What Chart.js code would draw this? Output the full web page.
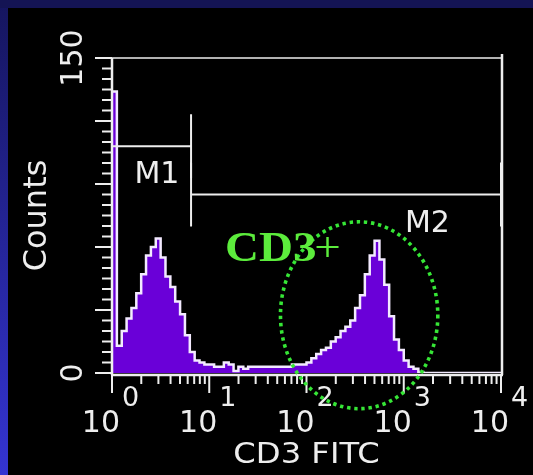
<!DOCTYPE html>
<html>
<head>
<meta charset="utf-8">
<script src="https://cdn.jsdelivr.net/npm/chart.js@4/dist/chart.umd.min.js"></script>
<style>
html, body { margin: 0; padding: 0; background: #000; }
canvas { display: block; }
</style>
</head>
<body>
<canvas id="hist" width="533" height="475"></canvas>
<script>
// CD3 FITC single-parameter histogram: 20 channels per decade, 10^0 .. 10^4
const decades = [0, 1, 2, 3, 4];
const channelsPerDecade = 20;
const counts = [
  134, 13, 20, 26, 31, 38, 47, 56, 60, 64,
  55, 46, 41, 34, 28, 18, 10, 6, 5, 4,
  4, 3, 3, 5, 4, 1, 3, 2, 3, 3,
  3, 3, 3, 3, 3, 3, 3, 4, 4, 4,
  5, 7, 9, 11, 12, 15, 17, 20, 22, 25,
  31, 37, 47, 56, 63, 54, 42, 27, 16, 11,
  6, 3, 2, 0.5, 0, 0, 0, 0, 0, 0,
  0, 0, 0, 0, 0, 0, 0, 0, 0, 0
];
const yTickLabels = [0, 150];
const yMinorStep = 5;
const yMajorStep = 30;
const axisTitleX = 'CD3 FITC';
const axisTitleY = 'Counts';

// region markers
const markerNames = ['M1', 'M2'];
const markerStart = [1, 6.5];
const markerEnd = [6.5, 10000];
const markerLevel = [108, 85];
const markerLabelX = [2.9, 1750];
const markerLabelY = [94, 71];

// CD3+ gate outline (dotted ellipse) and its label
const gateName = 'CD3+';
const gateX = [54, 2240];
const gateY = [-17, 72];
const gateLabelX = 14.5;
const gateLabelY = 53.5;

const points = counts.map((c, i) => ({ x: Math.pow(10, i / channelsPerDecade), y: c }));
points.push({ x: Math.pow(10, decades[decades.length - 1]), y: 0 });

const WHITE = '#eeeeee';
const GREEN = '#36e636';

function stretchedText(c, text, x, y, sx, align) {
  c.save();
  c.translate(x, y);
  c.scale(sx, 1);
  c.textAlign = align;
  c.fillText(text, 0, 0);
  c.restore();
}

const cytoFrame = {
  id: 'cytoFrame',
  beforeDraw(chart) {
    const c = chart.ctx, W = chart.width, H = chart.height;
    c.save();
    c.fillStyle = '#000';
    c.fillRect(0, 0, W, H);
    const g = c.createLinearGradient(0, 0, 0, H);
    g.addColorStop(0, '#15155e');
    g.addColorStop(1, '#3434d2');
    c.fillStyle = g;
    c.fillRect(0, 0, 8, H);
    c.fillStyle = '#141454';
    c.fillRect(0, 0, W, 8);
    c.restore();
  },
  afterDatasetsDraw(chart) {
    const c = chart.ctx;
    const xs = chart.scales.x, ys = chart.scales.y;
    const L = xs.getPixelForValue(1);
    const R = xs.getPixelForValue(10000);
    const T = ys.getPixelForValue(150);
    const B = ys.getPixelForValue(0);
    c.save();
    c.strokeStyle = WHITE;
    c.fillStyle = WHITE;
    c.lineCap = 'butt';

    // frame: top and right edges
    c.lineWidth = 1.5;
    c.beginPath(); c.moveTo(L, T); c.lineTo(R + 1, T); c.stroke();
    c.lineWidth = 2.5;
    c.beginPath(); c.moveTo(R + 1, T - 4); c.lineTo(R + 1, B + 2); c.stroke();

    // y axis with minor / major ticks
    c.lineWidth = 2.5;
    c.beginPath(); c.moveTo(L, T); c.lineTo(L, B + 2); c.stroke();
    c.lineWidth = 2;
    for (let v = 0; v <= 150; v += yMinorStep) {
      const y = ys.getPixelForValue(v);
      const len = v % yMajorStep === 0 ? 17 : 10;
      c.beginPath(); c.moveTo(L - len, y); c.lineTo(L, y); c.stroke();
    }

    // x axis with log ticks
    const ax = B + 2;
    c.lineWidth = 2.5;
    c.beginPath(); c.moveTo(L, ax); c.lineTo(R + 2, ax); c.stroke();
    c.lineWidth = 2;
    for (let d = decades[0]; d < decades[decades.length - 1]; d++) {
      for (let m = 1; m <= 9; m++) {
        const x = xs.getPixelForValue(m * Math.pow(10, d));
        const len = m === 1 ? 18 : 9;
        c.beginPath(); c.moveTo(x, ax); c.lineTo(x, ax + len); c.stroke();
      }
    }
    {
      const x = xs.getPixelForValue(Math.pow(10, decades[decades.length - 1]));
      c.beginPath(); c.moveTo(x, ax); c.lineTo(x, ax + 18); c.stroke();
    }

    // x tick labels: 10 with superscript exponent
    c.textBaseline = 'alphabetic';
    decades.forEach(d => {
      const x = xs.getPixelForValue(Math.pow(10, d));
      c.font = '30px "DejaVu Sans"';
      c.textAlign = 'right';
      c.fillText('10', x + 8, 432);
      c.font = '27px "DejaVu Sans"';
      c.textAlign = 'left';
      c.fillText(String(d), x + 10, 406);
    });

    // y tick labels, rotated
    c.font = '30px "DejaVu Sans"';
    yTickLabels.forEach(v => {
      const y = ys.getPixelForValue(v);
      c.save();
      c.translate(82, y);
      c.rotate(-Math.PI / 2);
      c.textAlign = 'center';
      c.fillText(String(v), 0, 0);
      c.restore();
    });

    // axis titles
    c.font = '32px "DejaVu Sans"';
    c.save();
    c.translate(46, (T + B) / 2);
    c.rotate(-Math.PI / 2);
    c.textAlign = 'center';
    c.fillText(axisTitleY, 0, 0);
    c.restore();
    c.font = '28px "DejaVu Sans"';
    stretchedText(c, axisTitleX, xs.getPixelForValue(100), 463, 1.15, 'center');

    // region markers
    c.lineWidth = 2;
    markerNames.forEach((name, i) => {
      const x0 = xs.getPixelForValue(markerStart[i]);
      const x1 = xs.getPixelForValue(markerEnd[i]);
      const y = ys.getPixelForValue(markerLevel[i]);
      c.beginPath();
      c.moveTo(x0, y); c.lineTo(x1, y);
      c.moveTo(x0, y - 32); c.lineTo(x0, y + 32);
      c.moveTo(x1, y - 32); c.lineTo(x1, y + 32);
      c.stroke();
      c.font = '30px "DejaVu Sans"';
      c.textAlign = 'center';
      c.textBaseline = 'middle';
      c.fillText(name, xs.getPixelForValue(markerLabelX[i]), ys.getPixelForValue(markerLabelY[i]));
    });

    // CD3+ gate: dotted ellipse
    const gx0 = xs.getPixelForValue(gateX[0]), gx1 = xs.getPixelForValue(gateX[1]);
    const gy0 = ys.getPixelForValue(gateY[0]), gy1 = ys.getPixelForValue(gateY[1]);
    c.strokeStyle = GREEN;
    c.lineWidth = 3.6;
    c.setLineDash([3.4, 3.8]);
    c.beginPath();
    c.ellipse((gx0 + gx1) / 2, (gy0 + gy1) / 2, Math.abs(gx1 - gx0) / 2, Math.abs(gy1 - gy0) / 2, 0, 0, Math.PI * 2);
    c.stroke();
    c.setLineDash([]);

    // gate label: bold "CD3" plus regular "+"
    c.fillStyle = '#5cec3c';
    c.textBaseline = 'alphabetic';
    const lx = xs.getPixelForValue(gateLabelX), ly = ys.getPixelForValue(gateLabelY);
    c.save();
    c.translate(lx, ly);
    c.scale(1.12, 1);
    c.textAlign = 'left';
    c.font = 'bold 42px "Liberation Serif"';
    const main = gateName.slice(0, 3);
    c.fillText(main, 0, 0);
    const w = c.measureText(main).width;
    c.font = '42px "Liberation Serif"';
    c.fillText(gateName.slice(3), w - 2, 0);
    c.restore();

    c.restore();
  }
};

new Chart(document.getElementById('hist'), {
  type: 'line',
  data: {
    datasets: [{
      data: points,
      stepped: true,
      fill: 'origin',
      backgroundColor: '#6a00d8',
      borderColor: '#f3eaff',
      borderWidth: 2.5,
      pointRadius: 0,
      tension: 0
    }]
  },
  options: {
    responsive: false,
    animation: false,
    devicePixelRatio: 1,
    layout: { padding: { left: 112, right: 32, top: 58, bottom: 102 } },
    plugins: { legend: { display: false }, tooltip: { enabled: false } },
    scales: {
      x: { type: 'logarithmic', min: 1, max: 10000, display: false },
      y: { type: 'linear', min: 0, max: 150, display: false }
    }
  },
  plugins: [cytoFrame]
});
</script>
</body>
</html>
